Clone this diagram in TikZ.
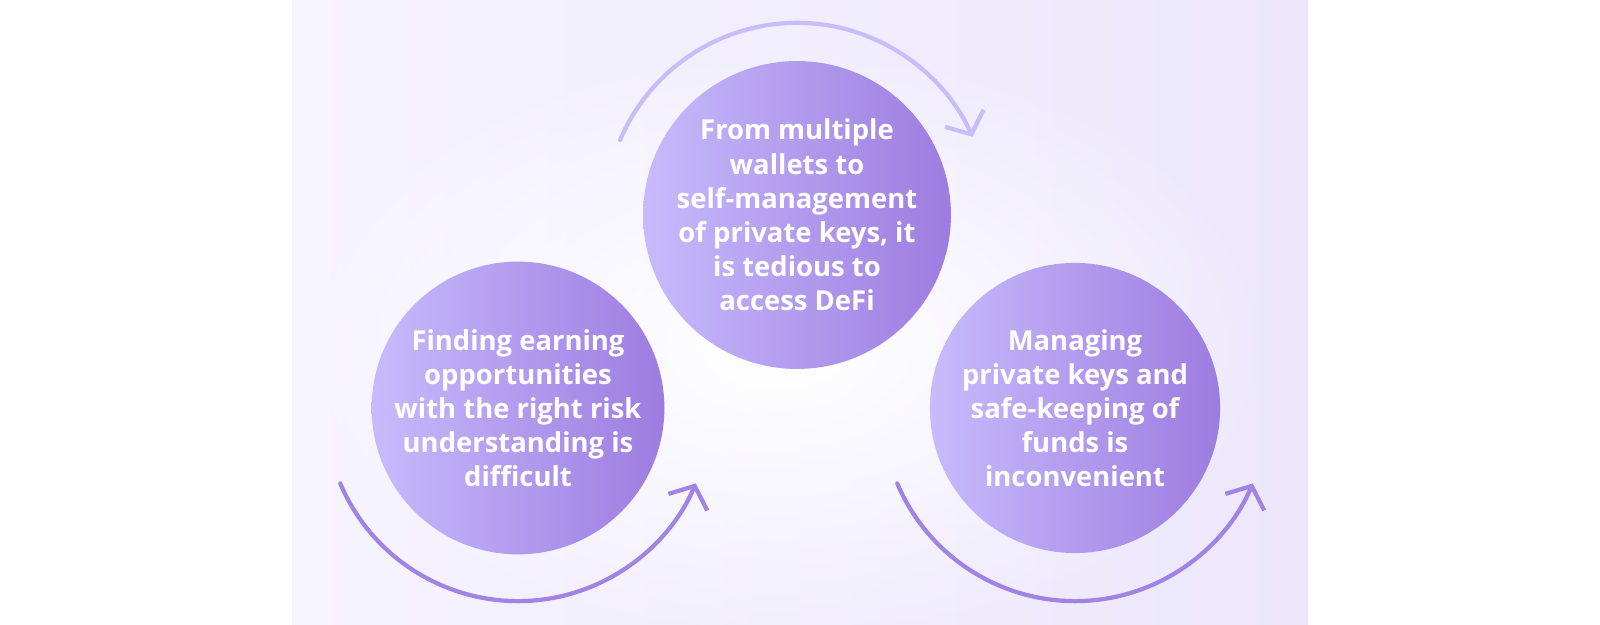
\documentclass[tikz,border=0pt]{standalone}
\usepackage{fontspec}
\setsansfont{Open Sans}
\usetikzlibrary{arrows.meta,calc,positioning,fadings}

\definecolor{panelA}{HTML}{F6F4FE}
\definecolor{panelB}{HTML}{ECE7FC}
\definecolor{circL}{HTML}{C7BBFC}
\definecolor{circR}{HTML}{9D7CE0}
\definecolor{arcTop}{HTML}{C8BDFA}
\definecolor{arcLow}{HTML}{A083E2}

\tikzfading[name=glow, inner color=transparent!0, outer color=transparent!100]

\tikzset{
    bubble/.style={circle, minimum size=2.9cm, inner sep=0pt,
        left color=circL, right color=circR,
        text=white, align=center, font=\sffamily\bfseries\fontsize{7.8}{9.7}\selectfont},
    loop/.style={line width=1.2pt, line cap=round,
        -{Straight Barb[length=5pt,width=12pt,line width=1.2pt]}}
}

\begin{document}
\begin{tikzpicture}[x=0.01cm,y=0.01cm]
        \useasboundingbox (0,0) rectangle (1600,625);
        \fill[white] (0,0) rectangle (1600,625);
        \shade[left color=panelA, right color=panelB] (292,0) rectangle (1308,625);
        \fill[white, path fading=glow] (780,280) ellipse (5cm and 3cm);

        \node[bubble] (costs) at (797,410) {From multiple\\wallets to\\self-management\\of private keys, it\\is tedious to\\access DeFi};
        \node[bubble] (yield) at (518,217) {Finding earning\\opportunities\\with the right risk\\understanding is\\difficult};
        \node[bubble] (keys) at (1075,217) {Managing\\private keys and\\safe-keeping of\\funds is\\inconvenient};

        \draw[loop, arcTop] (costs.center) ++(157:1.92cm) arc[start angle=157, end angle=24, radius=1.92cm];
        \draw[loop, arcLow] (yield.center) ++(203:1.93cm) arc[start angle=203, end angle=337, radius=1.93cm];
        \draw[loop, arcLow] (keys.center) ++(203:1.93cm) arc[start angle=203, end angle=337, radius=1.93cm];
    \end{tikzpicture}
\end{document}
